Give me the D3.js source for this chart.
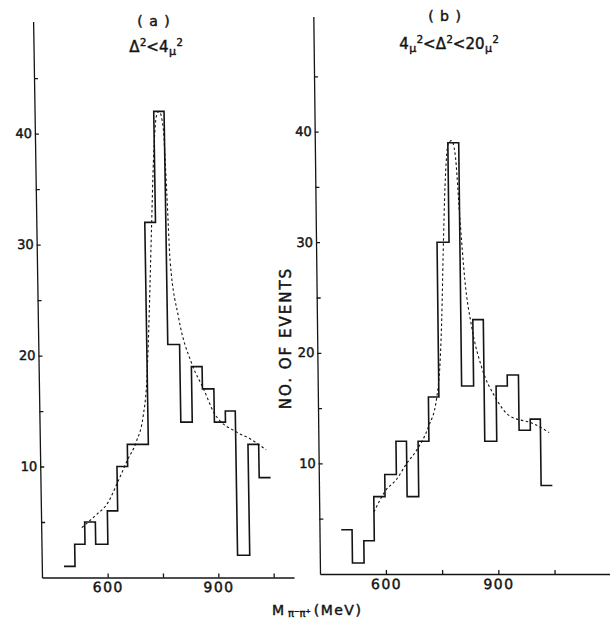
<!DOCTYPE html>
<html>
<head>
<meta charset="utf-8">
<script src="https://cdn.jsdelivr.net/npm/d3@7"></script>
<style>
  body { margin: 0; background: #fff; }
  svg text { font-family: "DejaVu Sans", sans-serif; fill: #141414; stroke: #141414; stroke-width: 0.45; }
  .axis path, .axis line { stroke: #141414; stroke-width: 1.3; }
  .axis text { font-size: 13px; }
  .xaxis text { font-size: 14px; letter-spacing: 1.5px; }
  .hist { fill: none; stroke: #141414; stroke-width: 1.6; }
  .fit { fill: none; stroke: #141414; stroke-width: 1.1; stroke-dasharray: 2.5 2.5; }
</style>
</head>
<body>
<svg id="chart" width="610" height="619"></svg>
<script>
// panel (a): bin edges in MeV and counts
const edgesA = [482, 512, 540, 569, 602, 630, 659, 687, 716, 745, 773, 805, 836, 865, 896, 926, 953, 986, 1015, 1046];
const countsA = [1, 3, 5, 3, 6, 10, 12, 12, 32, 42, 21, 14, 19, 17, 14, 15, 2, 12, 9];
// dashed fit curve (a)
const fitMassA  = [532, 570, 603, 630, 659, 683, 703, 714, 720, 734, 742, 753, 760, 770, 777, 783, 803, 838, 868, 896, 956, 992, 1035];
const fitCountA = [4.5, 5.6, 6.7, 8.5, 10.6, 12.2, 14.5, 17.5, 21, 31.5, 37.5, 41.7, 42, 40.5, 34.5, 28.5, 23.5, 19.2, 17, 14.8, 13.1, 12.5, 11.5];

// panel (b)
const edgesB = [482, 511, 542, 570, 600, 631, 659, 690, 719, 747, 779, 808, 840, 868, 900, 930, 960, 990, 1017, 1047];
const countsB = [4, 1, 3, 7, 9, 12, 7, 12, 16, 30, 39, 17, 23, 12, 17, 18, 13, 14, 8];
const fitMassB  = [570, 603, 630, 659, 686, 718, 741, 751, 757, 763, 770, 780, 789, 798, 809, 820, 837, 862, 897, 935, 998, 1040];
const fitCountB = [5.6, 7.6, 8.5, 10, 11.2, 13.3, 15.9, 19, 23, 29, 35, 38.9, 39.2, 38, 32, 26.6, 22.3, 18.7, 16, 14.3, 13.6, 12.8];

// axis ticks
const xTicks = [600, 750, 900, 1050];
const xTickLabels = [600, 900];
const yTicks = [5, 10, 15, 20, 25, 30, 35, 40, 45];
const yTickLabels = [10, 20, 30, 40];

const svg = d3.select("#chart");

// the scanned figure leans a little, so each panel gets a small skew about its base line
const panels = [
  {edges: edgesA, counts: countsA, fm: fitMassA, fc: fitCountA,
   left: 42, right: 294, xdom: [422, 1105], base: 577.5, top: 21.5, ymax: 50.1, lean: 0.016},
  {edges: edgesB, counts: countsB, fm: fitMassB, fc: fitCountB,
   left: 320, right: 610, xdom: [424, 1198], base: 574, top: 16.6, ymax: 50.4, lean: 0.012}
];

panels.forEach(p => {
  const ang = Math.atan(p.lean) * 180 / Math.PI;
  const g = svg.append("g")
    .attr("transform", `translate(0,${p.base}) skewX(${ang}) translate(0,${-p.base})`);

  let x = d3.scaleLinear().domain(p.xdom).range([p.left, p.right]);
  let y = d3.scaleLinear().domain([0, p.ymax]).range([p.base, p.top]);

  // bottom axis, ticks pointing up
  g.append("g")
    .attr("class", "axis xaxis")
    .attr("transform", `translate(0,${p.base})`)
    .call(d3.axisBottom(x)
      .tickValues(xTicks.filter(t => t < p.xdom[1]))
      .tickSize(-4).tickSizeOuter(0).tickPadding(5)
      .tickFormat(d => xTickLabels.includes(d) ? d : ""));

  // left axis, ticks pointing right
  g.append("g")
    .attr("class", "axis")
    .attr("transform", `translate(${p.left},0)`)
    .call(d3.axisLeft(y)
      .tickValues(yTicks)
      .tickSize(-4).tickSizeOuter(0).tickPadding(3)
      .tickFormat(d => yTickLabels.includes(d) ? d : ""));

  // histogram as a step line
  const steps = p.counts.flatMap((c, i) => [[p.edges[i], c], [p.edges[i + 1], c]]);
  g.append("path")
    .datum(steps)
    .attr("class", "hist")
    .attr("d", d3.line().x(d => x(d[0])).y(d => y(d[1])));

  // dashed fit
  const fit = p.fm.map((m, i) => [m, p.fc[i]]);
  g.append("path")
    .datum(fit)
    .attr("class", "fit")
    .attr("d", d3.line().curve(d3.curveMonotoneX).x(d => x(d[0])).y(d => y(d[1])));
});

// panel titles
function title(cx, cy, txt) {
  svg.append("text").attr("x", cx).attr("y", cy)
    .attr("text-anchor", "middle").attr("font-size", 14).attr("letter-spacing", 1)
    .text(txt);
}
title(154, 26, "( a )");
title(445, 21, "( b )");

// cut label: pieces of [text, font size, baseline offset]
function cut(cx, cy, parts) {
  const t = svg.append("text").attr("x", cx).attr("y", cy)
    .attr("text-anchor", "middle").attr("font-size", 15);
  let cur = 0;
  parts.forEach(s => {
    t.append("tspan").text(s[0])
      .attr("font-size", s[1])
      .attr("dy", s[2] - cur)
      .attr("dx", s[1] < 15 ? 0.5 : 0);
    cur = s[2];
  });
}
const SUP = -6, MU = 3;
cut(156, 52, [["Δ", 15, 0], ["2", 10, SUP], ["<", 15, 0], ["4", 15, 0], ["μ", 11, MU], ["2", 10, SUP]]);
cut(449, 49, [["4", 15, 0], ["μ", 11, MU], ["2", 10, SUP], ["<", 15, 0], ["Δ", 15, 0], ["2", 10, SUP],
              ["<", 15, 0], ["20", 15, 0], ["μ", 11, MU], ["2", 10, SUP]]);

// y label
svg.append("text")
  .attr("transform", "translate(291,338) rotate(-90)")
  .attr("text-anchor", "middle")
  .attr("font-size", 15).attr("letter-spacing", 2)
  .text("NO. OF EVENTS");

// x label
const xl = svg.append("text").attr("x", 272).attr("y", 615).attr("font-size", 14);
xl.append("tspan").text("M");
xl.append("tspan").attr("font-size", 10).attr("dx", 4).attr("dy", 2).text("π⁻π⁺");
xl.append("tspan").attr("dy", -2).attr("dx", 3).attr("letter-spacing", 1.5).text("(MeV)");
</script>
</body>
</html>
